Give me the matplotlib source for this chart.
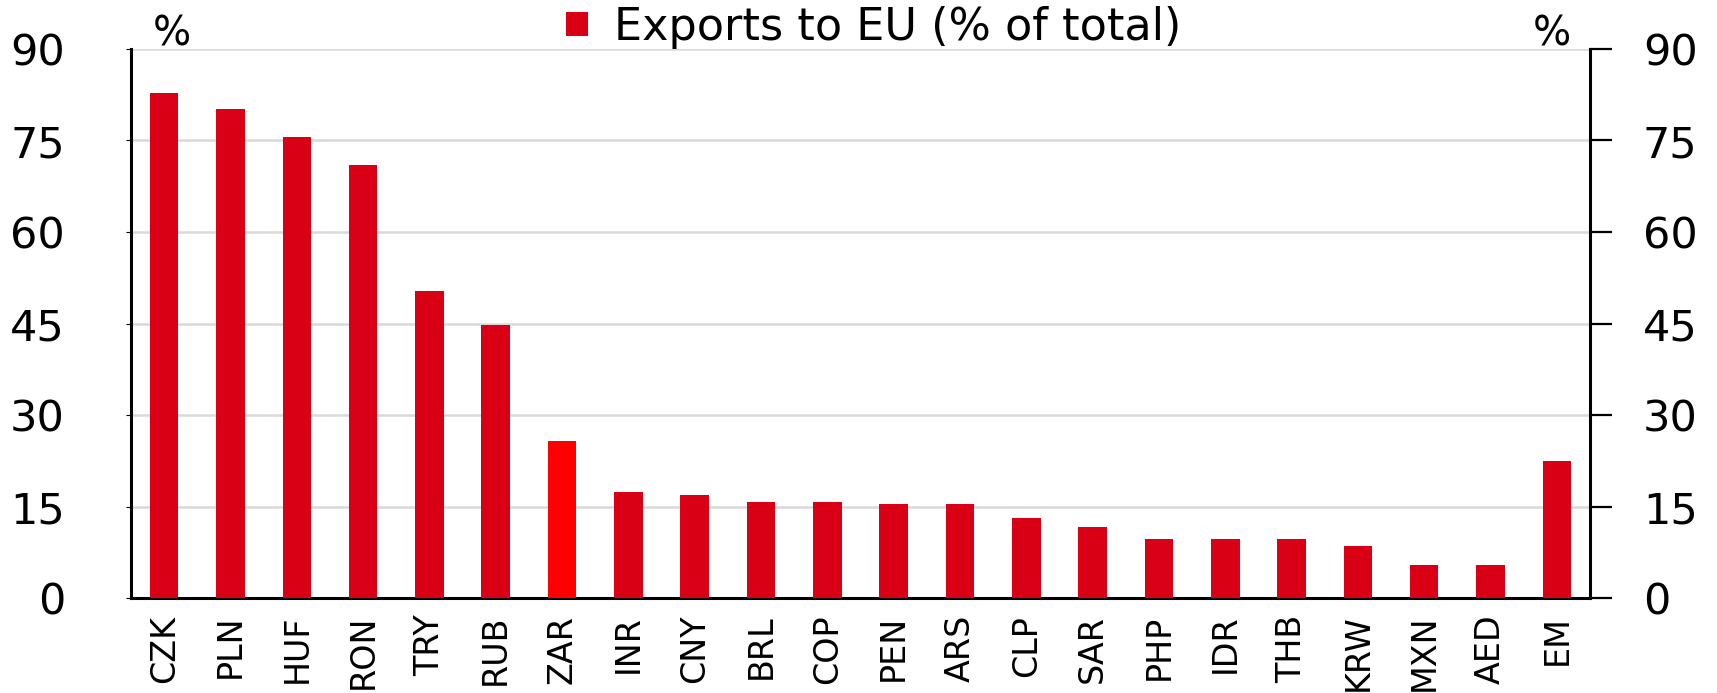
import matplotlib
matplotlib.use('Agg')
import matplotlib.pyplot as plt

# Exports to EU as share of total exports, by currency
currencies = ['CZK', 'PLN', 'HUF', 'RON', 'TRY', 'RUB', 'ZAR', 'INR', 'CNY', 'BRL', 'COP',
              'PEN', 'ARS', 'CLP', 'SAR', 'PHP', 'IDR', 'THB', 'KRW', 'MXN', 'AED', 'EM']
exports_eu = [82.8, 80.2, 75.6, 71.0, 50.4, 44.7, 25.8, 17.4, 16.9, 15.8, 15.8,
              15.4, 15.4, 13.1, 11.6, 9.7, 9.7, 9.7, 8.6, 5.4, 5.4, 22.4]
highlight = 'ZAR'
yticks = [0, 15, 30, 45, 60, 75, 90]

red = '#D90016'
bright_red = '#FF0000'
colors = [bright_red if c == highlight else red for c in currencies]

plt.rcParams['font.family'] = 'DejaVu Sans'

fig = plt.figure(figsize=(17.17, 6.93), dpi=100)
ax = fig.add_axes([131 / 1717, 1 - 598 / 693, 1459 / 1717, 549 / 693])

x = range(len(currencies))
bars = ax.bar(x, exports_eu, width=0.43, color=colors, label='Exports to EU (% of total)', zorder=3)

ax.set_xlim(-0.5, len(currencies) - 0.5)
ax.set_ylim(0, 90)
ax.set_yticks(yticks)
ax.set_yticklabels([str(t) for t in yticks])
ax.set_xticks(list(x))
ax.set_xticklabels(currencies, rotation=90, fontsize=24)
ax.tick_params(axis='x', length=0, pad=12)
ax.tick_params(axis='y', left=False, labelsize=31, pad=44)

ax.grid(axis='y', color='#D9D9D9', linewidth=1.8, zorder=0)
for s in ['top', 'right']:
    ax.spines[s].set_visible(False)
for s in ['left', 'bottom']:
    ax.spines[s].set_linewidth(2.2)
    ax.spines[s].set_color('black')

# right-hand axis with outward ticks
ax2 = ax.twinx()
ax2.set_ylim(0, 90)
ax2.set_yticks(yticks)
ax2.set_yticklabels([str(t) for t in yticks])
ax2.tick_params(axis='y', direction='out', length=16, width=1.6, labelsize=31, pad=22)
for s in ['top', 'left', 'bottom']:
    ax2.spines[s].set_visible(False)
ax2.spines['right'].set_linewidth(2.2)

# unit labels
fig.text(172 / 1717, 1 - 46 / 693, '%', fontsize=29, ha='center', va='baseline')
fig.text(1552 / 1717, 1 - 46 / 693, '%', fontsize=29, ha='center', va='baseline')

ax.legend(handles=[bars], loc='center', bbox_to_anchor=(0.509, 1.04), frameon=False,
          fontsize=32, handlelength=0.5, handleheight=0.45, handletextpad=0.6,
          borderpad=0, borderaxespad=0)

fig.savefig('out.png', dpi=100)
